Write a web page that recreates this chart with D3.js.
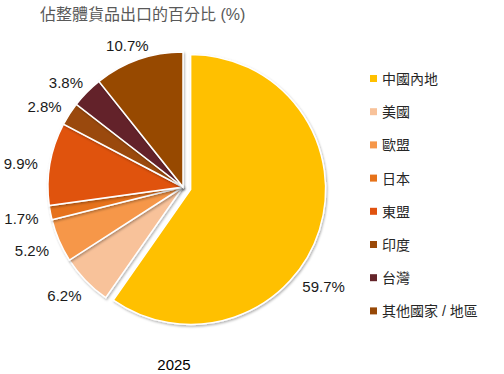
<!DOCTYPE html>
<html>
<head>
<meta charset="utf-8">
<script src="https://cdn.jsdelivr.net/npm/d3@7"></script>
<style>
  body { margin: 0; background: #fff; }
  text { font-family: Arial, "Liberation Sans", "Noto Sans CJK TC", sans-serif; }
</style>
</head>
<body>
<script>
// chart data
const categories = ["中國內地", "美國", "歐盟", "日本", "東盟", "印度", "台灣", "其他國家 / 地區"];
const shares = [59.7, 6.2, 5.2, 1.7, 9.9, 2.8, 3.8, 10.7];
const colors = ["#FFC000", "#F8C29A", "#F6974A", "#E6721A", "#E0520F", "#9A4908", "#64242A", "#974806"];
const titleText = "佔整體貨品出口的百分比 (%)";
const yearLabel = "2025";

const width = 504, height = 374;
const cx = 183, cy = 187, radius = 135;
const explode = 8;   // first slice pulled out
const labelGap = 148;
const bigLabelAngle = 128 * Math.PI / 180; // "best fit" spot for the big slice label

const svg = d3.select("body").append("svg")
  .attr("width", width)
  .attr("height", height);

// soft shadow under slices
const defs = svg.append("defs");
defs.append("filter").attr("id", "shadow")
  .attr("x", "-20%").attr("y", "-20%").attr("width", "140%").attr("height", "140%")
  .append("feDropShadow")
  .attr("dx", 1).attr("dy", 1.5).attr("stdDeviation", 1.2)
  .attr("flood-color", "#000").attr("flood-opacity", 0.3);

// title
svg.append("text")
  .attr("x", 40).attr("y", 20)
  .attr("font-size", 16)
  .attr("fill", "#595959")
  .text(titleText);

const data = categories.map((c, i) => ({name: c, value: shares[i], color: colors[i]}));

const pie = d3.pie().sort(null).value(d => d.value);
const arcs = pie(data);
const arc = d3.arc().innerRadius(0).outerRadius(radius);

const g = svg.append("g")
  .attr("transform", "translate(" + cx + "," + cy + ")");

// offset for each slice (only the first is exploded)
function offset(d, i) {
  const a = (d.startAngle + d.endAngle) / 2;
  const r = i === 0 ? explode : 0;
  return [Math.sin(a) * r, -Math.cos(a) * r];
}

g.selectAll("path.slice")
  .data(arcs)
  .enter().append("path")
    .attr("class", "slice")
    .attr("d", arc)
    .attr("transform", (d, i) => "translate(" + offset(d, i) + ")")
    .attr("fill", d => d.data.color)
    .attr("stroke", "#fff")
    .attr("stroke-width", 1.5)
    .attr("filter", "url(#shadow)");

// percentage labels outside each slice
g.selectAll("text.lbl")
  .data(arcs)
  .enter().append("text")
    .attr("class", "lbl")
    .attr("font-size", 15)
    .attr("fill", "#1a1a1a")
    .attr("text-anchor", "middle")
    .attr("dy", "0.35em")
    .attr("transform", function(d, i) {
      const a = i === 0 ? bigLabelAngle : (d.startAngle + d.endAngle) / 2;
      const o = offset(d, i);
      const s = d.data.value.toFixed(1) + "%";
      const w = s.length * 8.3, h = 10;
      const dx = Math.sin(a), dy = -Math.cos(a);
      const x = o[0] + dx * labelGap + dx * w / 2;
      const y = o[1] + dy * labelGap + dy * h / 2 + 3;
      return "translate(" + x + "," + y + ")";
    })
    .text(d => d.data.value.toFixed(1) + "%");

// legend
const legend = svg.append("g")
  .attr("transform", "translate(370,79)");

const rows = legend.selectAll("g.row")
  .data(data)
  .enter().append("g")
    .attr("class", "row")
    .attr("transform", (d, i) => "translate(0," + (i * 33.2) + ")");

rows.append("rect")
  .attr("x", 0).attr("y", -4)
  .attr("width", 7).attr("height", 7)
  .attr("fill", d => d.color);

rows.append("text")
  .attr("x", 12).attr("y", 0)
  .attr("dy", "0.35em")
  .attr("font-size", 14)
  .attr("fill", "#262626")
  .text(d => d.name);

// year under the pie
svg.append("text")
  .attr("x", 174).attr("y", 365)
  .attr("dy", "0.35em")
  .attr("text-anchor", "middle")
  .attr("font-size", 15)
  .attr("fill", "#000")
  .text(yearLabel);
</script>
</body>
</html>
